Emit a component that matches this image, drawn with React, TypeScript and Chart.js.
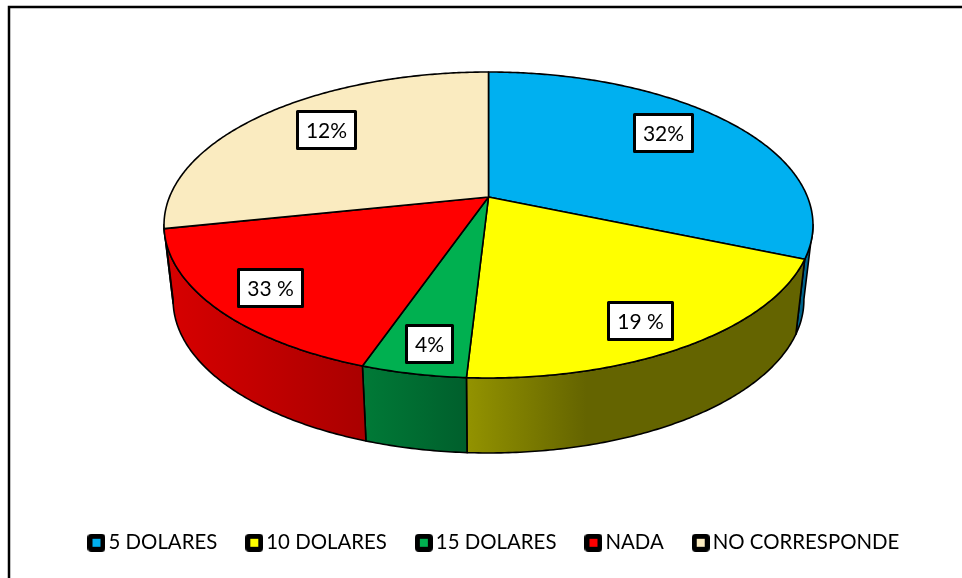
import React, { useEffect, useRef } from "react";
import { Chart, registerables } from "chart.js";

Chart.register(...registerables);

// Categories and the slice sizes as drawn in the picture
const categories = ["5 DOLARES", "10 DOLARES", "15 DOLARES", "NADA", "NO CORRESPONDE"];
const sliceValues = [31.4, 19.5, 4.4, 16.4, 28.3];
// The printed labels (they differ from the drawn sizes in the original)
const sliceLabels = ["32%", "19 %", "4%", "33 %", "12%"];
const topColors = ["#00B0F0", "#FFFF00", "#00B050", "#FF0000", "#FAEBC0"];
const wallLeftColors = ["#00648C", "#939300", "#007A37", "#D80000", "#8F8560"];
const wallRightColors = ["#00648C", "#646400", "#005F2C", "#AA0000", "#8F8560"];

const FONT = "Lato, Carlito, Calibri, sans-serif";

// Perspective of the disc
const APEX_X = 488.5;
const APEX_Y = 197;
const HALF_W = 319;
const PERSP = -0.183;
const DEPTH_Y = 111.8;
const WALL_DY = 75;
const WALL_XS = 0.972;
// Where each printed label sits relative to its slice
const LABEL_RADIUS = [0.76, 0.835, 0.854, 0.825, 0.747];
const LABEL_TURN_DEG = [-5, 2.3, -0.5, -0.4, 3];

function project(u: number, v: number): [number, number] {
  const w = 1 + PERSP * v;
  return [APEX_X + (HALF_W * u) / w, (APEX_Y + DEPTH_Y * v) / w];
}

function rim(a: number): [number, number] {
  return project(Math.cos(a), Math.sin(a));
}

function lowerRim(a: number): [number, number] {
  const [x, y] = rim(a);
  return [APEX_X + (x - APEX_X) * WALL_XS, y + WALL_DY];
}

function samples(a: number, b: number): number[] {
  const n = Math.max(2, Math.ceil(Math.abs(b - a) / 0.01));
  const out: number[] = [];
  for (let i = 0; i <= n; i++) out.push(a + ((b - a) * i) / n);
  return out;
}

const pie3d = {
  id: "pie3d",
  beforeDraw(chart: any) {
    const ctx = chart.ctx;
    ctx.save();
    ctx.strokeStyle = "#000";
    ctx.lineWidth = 2.5;
    ctx.strokeRect(9, 7, 1100, 800);
    ctx.restore();
  },
  beforeDatasetDraw() {
    return false;
  },
  afterDatasetsDraw(chart: any) {
    const ctx = chart.ctx;
    const arcs = chart.getDatasetMeta(0).data;
    ctx.save();
    ctx.lineJoin = "round";
    ctx.strokeStyle = "#000";
    ctx.lineWidth = 1.6;

    // side walls, only on the front half of the rim
    const frontStart = 0.181;
    const frontEnd = Math.PI - 0.181;
    arcs.forEach((arc: any, i: number) => {
      const ranges: [number, number][] = [];
      for (const shift of [0, Math.PI * 2]) {
        const a = Math.max(arc.startAngle, frontStart + shift);
        const b = Math.min(arc.endAngle, frontEnd + shift);
        if (b > a) ranges.push([a, b]);
      }
      for (const [a, b] of ranges) {
        const pts = samples(a, b);
        const xs = pts.map((t) => rim(t)[0]);
        const gx0 = Math.min(...xs);
        const gx1 = Math.max(...xs);
        const grad = ctx.createLinearGradient(gx0, 0, i === 1 ? gx0 + 120 : gx1, 0);
        grad.addColorStop(0, wallLeftColors[i]);
        grad.addColorStop(1, wallRightColors[i]);
        ctx.beginPath();
        pts.forEach((t, k) => {
          const [x, y] = rim(t);
          if (k === 0) ctx.moveTo(x, y);
          else ctx.lineTo(x, y);
        });
        [...pts].reverse().forEach((t) => {
          const [x, y] = lowerRim(t);
          ctx.lineTo(x, y);
        });
        ctx.closePath();
        ctx.fillStyle = grad;
        ctx.fill();
        ctx.stroke();
      }
    });

    // top faces
    arcs.forEach((arc: any, i: number) => {
      ctx.beginPath();
      ctx.moveTo(APEX_X, APEX_Y);
      samples(arc.startAngle, arc.endAngle).forEach((t) => {
        const [x, y] = rim(t);
        ctx.lineTo(x, y);
      });
      ctx.closePath();
      ctx.fillStyle = topColors[i];
      ctx.fill();
      ctx.stroke();
    });

    // printed labels in white boxes
    ctx.font = `21px ${FONT}`;
    ctx.textAlign = "center";
    ctx.textBaseline = "middle";
    arcs.forEach((arc: any, i: number) => {
      const mid = (arc.startAngle + arc.endAngle) / 2 + (LABEL_TURN_DEG[i] * Math.PI) / 180;
      const r = LABEL_RADIUS[i];
      const [cx, cy] = project(r * Math.cos(mid), r * Math.sin(mid));
      const text = sliceLabels[i];
      const w = Math.round(ctx.measureText(text).width) + 17;
      const h = 37;
      const bx = Math.round(cx - w / 2) + 0.5;
      const by = Math.round(cy - h / 2) + 0.5;
      ctx.fillStyle = "#fff";
      ctx.strokeStyle = "#000";
      ctx.lineWidth = 3;
      ctx.fillRect(bx, by, w, h);
      ctx.strokeRect(bx, by, w, h);
      ctx.fillStyle = "#000";
      ctx.fillText(text, bx + w / 2, by + h / 2 + 1);
    });
    ctx.restore();
  },
};

function swatch(color: string): HTMLCanvasElement {
  const c = document.createElement("canvas");
  c.width = 18;
  c.height = 18;
  const g = c.getContext("2d")!;
  g.fillStyle = "#000";
  g.beginPath();
  g.roundRect(0, 0, 18, 18, 4);
  g.fill();
  g.fillStyle = color;
  g.fillRect(5, 5, 8, 8);
  return c;
}

export default function App() {
  const ref = useRef<HTMLCanvasElement | null>(null);
  useEffect(() => {
    const chart = new Chart(ref.current!, {
      type: "pie",
      data: {
        labels: categories,
        datasets: [{ data: sliceValues, backgroundColor: topColors }],
      },
      plugins: [pie3d],
      options: {
        responsive: false,
        animation: false,
        layout: { padding: { left: 32, bottom: 15 } },
        plugins: {
          tooltip: { enabled: false },
          legend: {
            display: true,
            position: "bottom",
            labels: {
              usePointStyle: true,
              pointStyleWidth: 3.6,
              padding: 35.2,
              color: "#000",
              font: { family: FONT, size: 20.4 },
              generateLabels: () =>
                categories.map((text, i) => ({
                  text,
                  fillStyle: topColors[i],
                  strokeStyle: "#000",
                  lineWidth: 0,
                  pointStyle: swatch(topColors[i]),
                  hidden: false,
                  index: i,
                  fontColor: "#000",
                })),
            },
          },
        },
      },
    } as any);
    return () => chart.destroy();
  }, []);
  return (
    <canvas
      ref={ref}
      width={962}
      height={578}
      style={{ position: "absolute", left: 0, top: 0, display: "block" }}
    />
  );
}
